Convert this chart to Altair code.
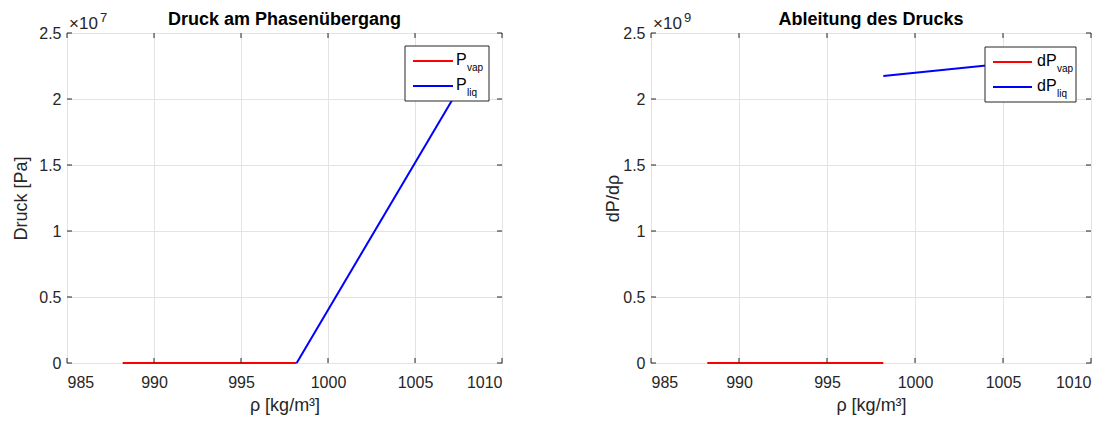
import altair as alt
import pandas as pd

# ---- data ----
rho_vap = [988.2, 998.2]
p_vap = [0.0, 0.0]
rho_liq = [998.2, 1008.2]
p_liq = [0.0, 2.23e7]

drho_vap = [988.2, 998.2]
dp_vap = [0.0, 0.0]
drho_liq = [998.2, 1008.2]
dp_liq = [2.174e9, 2.31e9]

x_ticks = [985, 990, 995, 1000, 1005, 1010]
y_ticks_rel = [0, 0.5, 1, 1.5, 2, 2.5]

FONT = "Liberation Sans"
DARK = "#262626"
W1, W2, H = 435, 440, 330


def panel(rho_a, val_a, rho_b, val_b, exp, title, ytitle, lab_main, W, leg, ytp):
    scale_f = 10 ** exp
    df = pd.DataFrame({
        "rho": rho_a + rho_b,
        "val": val_a + val_b,
        "s": ["vap"] * len(rho_a) + ["liq"] * len(rho_b),
    })
    xs = alt.Scale(domain=[985, 1010], nice=False, zero=False)
    ys = alt.Scale(domain=[0, 2.5 * scale_f], nice=False, zero=False)
    yt = [v * scale_f for v in y_ticks_rel]
    xax = alt.Axis(values=x_ticks, format="d")
    yax = alt.Axis(values=yt, titlePadding=ytp,
                   labelExpr=f"format(datum.value / {scale_f:.0e}, '~g')")
    xtitle = "ρ [kg/m³]"

    def X(f):
        return alt.X(f, scale=xs, title=xtitle, axis=xax)

    def Y(f):
        return alt.Y(f, scale=ys, title=ytitle, axis=yax)

    lines = alt.Chart(df).mark_line(strokeWidth=2).encode(
        x=X("rho:Q"),
        y=Y("val:Q"),
        color=alt.Color("s:N", scale=alt.Scale(domain=["vap", "liq"],
                                               range=["#ff0000", "#0000ff"]),
                        legend=None),
        detail="s:N",
        order="rho:Q",
    )

    xt = pd.DataFrame({"rho": x_ticks})
    ytd = pd.DataFrame({"val": yt})
    tb = alt.Chart(xt).mark_rule(color=DARK, strokeWidth=1).encode(
        x=X("rho:Q"), y=alt.value(H), y2=alt.value(H - 5))
    tt = alt.Chart(xt).mark_rule(color=DARK, strokeWidth=1).encode(
        x=X("rho:Q"), y=alt.value(0), y2=alt.value(5))
    tl = alt.Chart(ytd).mark_rule(color=DARK, strokeWidth=1).encode(
        y=Y("val:Q"), x=alt.value(0), x2=alt.value(5))
    tr = alt.Chart(ytd).mark_rule(color=DARK, strokeWidth=1).encode(
        y=Y("val:Q"), x=alt.value(W - 5), x2=alt.value(W))

    one = pd.DataFrame({"a": [0]})
    # title and exponent label drawn as text marks
    ttl = alt.Chart(one).mark_text(font=FONT, fontSize=18, fontWeight="bold",
                                   color="black", align="center",
                                   baseline="alphabetic").encode(
        x=alt.value(W / 2), y=alt.value(-8), text=alt.value(title))
    ex1 = alt.Chart(one).mark_text(font=FONT, fontSize=17, color=DARK, align="left",
                                   baseline="alphabetic").encode(
        x=alt.value(2), y=alt.value(-4), text=alt.value("×10"))
    ex2 = alt.Chart(one).mark_text(font=FONT, fontSize=13, color=DARK, align="left",
                                   baseline="alphabetic").encode(
        x=alt.value(33), y=alt.value(-11), text=alt.value(str(exp)))

    bx0, bx1, by0, by1, lx0, lx1, tx, sx = leg
    box = alt.Chart(one).mark_rect(fill="white", stroke=DARK, strokeWidth=1).encode(
        x=alt.value(bx0), x2=alt.value(bx1), y=alt.value(by0), y2=alt.value(by1))
    layers = [lines, tb, tt, tl, tr, ttl, ex1, ex2, box]
    for yy, col, sub in [(by0 + 15, "#ff0000", "vap"), (by0 + 40, "#0000ff", "liq")]:
        layers.append(alt.Chart(one).mark_rule(color=col, strokeWidth=2).encode(
            x=alt.value(lx0), x2=alt.value(lx1), y=alt.value(yy)))
        layers.append(alt.Chart(one).mark_text(font=FONT, fontSize=16, color="black",
                                               align="left", baseline="middle").encode(
            x=alt.value(tx), y=alt.value(yy - 1), text=alt.value(lab_main)))
        layers.append(alt.Chart(one).mark_text(font=FONT, fontSize=10, color="black",
                                               align="left", baseline="middle").encode(
            x=alt.value(sx), y=alt.value(yy + 7), text=alt.value(sub)))

    return alt.layer(*layers).properties(width=W, height=H)


left = panel(rho_vap, p_vap, rho_liq, p_liq, 7, "Druck am Phasenübergang",
             "Druck [Pa]", "P", W1, (338, 422, 13, 68, 346, 386, 389, 400), 8)
right = panel(drho_vap, dp_vap, drho_liq, dp_liq, 9, "Ableitung des Drucks",
              "dP/dρ", "dP", W2, (334, 425, 14, 69, 342, 381, 386, 406), 0)

chart = alt.hconcat(left, right, spacing=101).properties(
    padding={"left": 4, "top": 2, "right": 5, "bottom": 0}
).configure_view(stroke=DARK, strokeWidth=1).configure_axis(
    grid=True, gridColor="#e3e3e3", gridWidth=1, domain=False, ticks=False,
    labelFont=FONT, labelFontSize=16, labelColor=DARK, titleFont=FONT,
    titleFontSize=18, titleFontWeight="normal", titleColor=DARK,
).configure_axisX(labelPadding=11, titlePadding=6).configure_axisY(
    labelPadding=6)

chart.save("out.html", embed_options={"renderer": "svg", "actions": False})
